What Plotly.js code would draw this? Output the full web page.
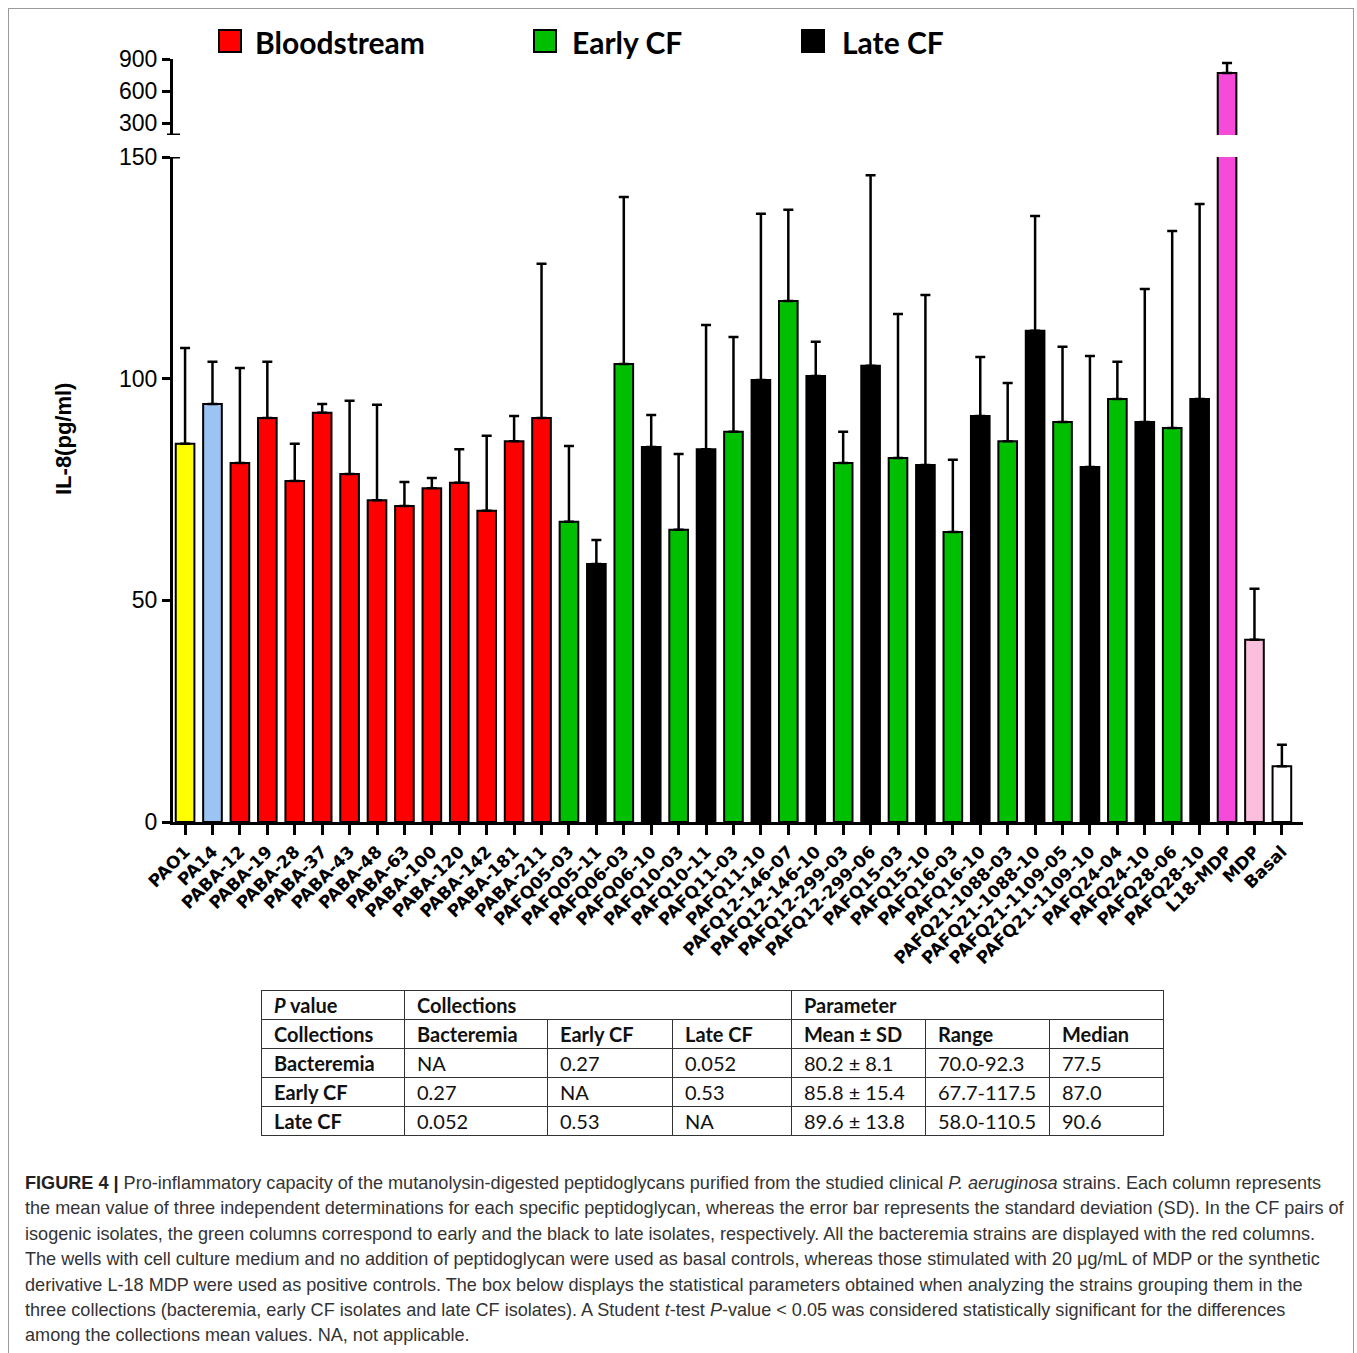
<!DOCTYPE html>
<html>
<head>
<meta charset="utf-8">
<script src="https://cdn.plot.ly/plotly-3.0.1.min.js"></script>
<style>
  html, body { margin:0; padding:0; background:#fff; }
  #frame { position:absolute; left:8px; top:8px; width:1346px; height:1360px; border:1px solid #9a9a9a; box-sizing:border-box; }
  #chart { position:absolute; left:0; top:0; width:1357px; height:980px; }
  #tbl { position:absolute; left:261px; top:990px; border-collapse:collapse; font-family:Lato, "Open Sans", sans-serif; font-size:20px; color:#111; table-layout:fixed; }
  #tbl td { border:1px solid #333; height:28px; padding:0 0 0 12px; white-space:nowrap; line-height:28px; }
  #tbl tr.h td { font-weight:bold; }
  #tbl td.b { font-weight:bold; }
  #cap { position:absolute; left:25px; top:1171px; font-family:"Liberation Sans", Arial, sans-serif; font-size:18.1px; line-height:25.4px; color:#333; white-space:nowrap; }
</style>
</head>
<body>
<div id="frame"></div>
<div id="chart"></div>
<table id="tbl">
  <colgroup>
    <col style="width:143px"><col style="width:143px"><col style="width:125px"><col style="width:119px"><col style="width:134px"><col style="width:124px"><col style="width:114px">
  </colgroup>
  <tr class="h"><td><i>P</i> value</td><td colspan="3">Collections</td><td colspan="3">Parameter</td></tr>
  <tr class="h"><td>Collections</td><td>Bacteremia</td><td>Early CF</td><td>Late CF</td><td>Mean ± SD</td><td>Range</td><td>Median</td></tr>
  <tr><td class="b">Bacteremia</td><td>NA</td><td>0.27</td><td>0.052</td><td>80.2 ± 8.1</td><td>70.0-92.3</td><td>77.5</td></tr>
  <tr><td class="b">Early CF</td><td>0.27</td><td>NA</td><td>0.53</td><td>85.8 ± 15.4</td><td>67.7-117.5</td><td>87.0</td></tr>
  <tr><td class="b">Late CF</td><td>0.052</td><td>0.53</td><td>NA</td><td>89.6 ± 13.8</td><td>58.0-110.5</td><td>90.6</td></tr>
</table>
<div id="cap"><b style="color:#222">FIGURE 4 |</b> Pro-inflammatory capacity of the mutanolysin-digested peptidoglycans purified from the studied clinical <i>P. aeruginosa</i> strains. Each column represents<br>the mean value of three independent determinations for each specific peptidoglycan, whereas the error bar represents the standard deviation (SD). In the CF pairs of<br>isogenic isolates, the green columns correspond to early and the black to late isolates, respectively. All the bacteremia strains are displayed with the red columns.<br>The wells with cell culture medium and no addition of peptidoglycan were used as basal controls, whereas those stimulated with 20 μg/mL of MDP or the synthetic<br>derivative L-18 MDP were used as positive controls. The box below displays the statistical parameters obtained when analyzing the strains grouping them in the<br>three collections (bacteremia, early CF isolates and late CF isolates). A Student <i>t</i>-test <i>P</i>-value &lt; 0.05 was considered statistically significant for the differences<br>among the collections mean values. NA, not applicable.</div>
<script>
// ---- data ----
const strains = ["PAO1","PA14","PABA-12","PABA-19","PABA-28","PABA-37","PABA-43","PABA-48","PABA-63","PABA-100","PABA-120","PABA-142","PABA-181","PABA-211",
  "PAFQ05-03","PAFQ05-11","PAFQ06-03","PAFQ06-10","PAFQ10-03","PAFQ10-11","PAFQ11-03","PAFQ11-10","PAFQ12-146-07","PAFQ12-146-10","PAFQ12-299-03","PAFQ12-299-06",
  "PAFQ15-03","PAFQ15-10","PAFQ16-03","PAFQ16-10","PAFQ21-1088-03","PAFQ21-1088-10","PAFQ21-1109-05","PAFQ21-1109-10","PAFQ24-04","PAFQ24-10","PAFQ28-06","PAFQ28-10",
  "L18-MDP","MDP","Basal"];
const groups = ["PAO1","PA14","B","B","B","B","B","B","B","B","B","B","B","B",
  "E","L","E","L","E","L","E","L","E","L","E","L",
  "E","L","E","L","E","L","E","L","E","L","E","L",
  "L18","MDP","Basal"];
const il8Mean = [85.3,94.3,81.0,91.1,76.9,92.3,78.5,72.6,71.3,75.3,76.5,70.2,85.9,91.1,
  67.7,58.2,103.3,84.6,65.9,84.1,88.0,99.7,117.5,100.6,81.0,102.9,
  82.1,80.5,65.4,91.6,85.9,110.8,90.2,80.1,95.4,90.2,88.9,95.4,
  769,41.1,12.6];
const il8SD = [21.6,9.5,21.4,12.7,8.4,2.0,16.5,21.5,5.4,2.3,7.6,16.9,5.7,34.8,
  17.1,5.4,37.7,7.2,17.1,28.0,21.4,37.5,20.6,7.7,7.0,43.0,
  32.5,38.4,16.3,13.3,13.1,25.9,17.0,25.0,8.4,30.0,44.4,44.0,
  93,11.5,4.8];
const lowerTicks = [0,50,100,150];
const upperTicks = [300,600,900];
const legendNames = ["Bloodstream","Early CF","Late CF"];

// ---- styles ----
const groupColor = {PAO1:"#ffff00", PA14:"#9cc4f2", B:"#ff0000", E:"#00bf00", L:"#000000", L18:"#f64bd8", MDP:"#fbbfdd", Basal:"#ffffff"};
const legendColor = ["#ff0000","#00bf00","#000000"];
const colors = groups.map(g => groupColor[g]);
const zeros = il8SD.map(() => 0);

const lower = {
  type:"bar", x:strains, y:il8Mean, xaxis:"x", yaxis:"y", width:0.68,
  marker:{color:colors, line:{color:"#000", width:2}},
  error_y:{type:"data", symmetric:false, array:il8SD, arrayminus:zeros, color:"#000", thickness:2.5, width:5},
  showlegend:false, hoverinfo:"x+y"
};
const hi = strains.map((s,i) => groups[i]==="L18" ? i : -1).filter(i => i>=0);
const upper = {
  type:"bar", x:hi.map(i=>strains[i]), y:hi.map(i=>il8Mean[i]), xaxis:"x2", yaxis:"y2", width:0.68,
  marker:{color:hi.map(i=>colors[i]), line:{color:"#000", width:2}},
  error_y:{type:"data", symmetric:false, array:hi.map(i=>il8SD[i]), arrayminus:hi.map(()=>0), color:"#000", thickness:2.5, width:5},
  showlegend:false, hoverinfo:"x+y"
};

// plot area pixel geometry: x 173..1303, y 59..822
const L=173, R=1303, T=59, B=822, W=R-L, H=B-T;
const px = v => (v-L)/W, py = v => (B-v)/H;

const shapes = [
  {type:"line", xref:"paper", yref:"y", x0:px(173), x1:px(180), y0:150, y1:150, line:{color:"#000", width:3}},
  {type:"line", xref:"paper", yref:"y2", x0:px(167), x1:px(180), y0:187.5, y1:187.5, line:{color:"#000", width:3}}
];
const annotations = [
  {xref:"paper", yref:"paper", x:px(63), y:py(439), text:"IL-8(pg/ml)", textangle:-90, showarrow:false,
   font:{family:"Liberation Sans, Arial", size:22, color:"#000", weight:"bold"}, xanchor:"center", yanchor:"middle"}
];
const legendSq = [[219,241],[534,556],[802,824]];
const legendTx = [253,570,840];
legendNames.forEach((n,k) => {
  shapes.push({type:"rect", xref:"paper", yref:"paper", x0:px(legendSq[k][0]), x1:px(legendSq[k][1]), y0:py(52), y1:py(30),
    fillcolor:legendColor[k], line:{color:"#000", width:2}});
  annotations.push({xref:"paper", yref:"paper", x:px(legendTx[k]), y:py(42), text:n, showarrow:false, xanchor:"left", yanchor:"middle",
    font:{family:"Lato, Open Sans", size:30, color:"#000", weight:"bold"}});
});

const tickFontX = {family:"DejaVu Sans", size:17, color:"#000", weight:"bold"};
const tickFontY = {family:"Liberation Sans, Arial", size:23, color:"#000"};

const layout = {
  width:1357, height:980,
  margin:{l:L, r:1357-R, t:T, b:980-B},
  paper_bgcolor:"rgba(0,0,0,0)", plot_bgcolor:"rgba(0,0,0,0)",
  showlegend:false,
  xaxis:{type:"category", categoryorder:"array", categoryarray:strains, range:[-0.44,40.77], domain:[0,1], anchor:"y",
    showline:true, linewidth:3, linecolor:"#000", ticks:"outside", ticklen:10, tickwidth:3, tickcolor:"#000",
    tickangle:-45, tickfont:tickFontX, showgrid:false, zeroline:false, fixedrange:true, automargin:false},
  xaxis2:{type:"category", categoryorder:"array", categoryarray:strains, range:[-0.44,40.77], domain:[0,1], anchor:"y2",
    visible:false, fixedrange:true},
  yaxis:{domain:[0, py(157)], range:[0,150], tickvals:lowerTicks, ticks:"outside", ticklen:8, tickwidth:3, tickcolor:"#000",
    showline:true, linewidth:3, linecolor:"#000", showgrid:false, zeroline:false, tickfont:tickFontY, anchor:"x"},
  yaxis2:{domain:[py(135), 1], range:[187.5,900], tickvals:upperTicks, ticks:"outside", ticklen:8, tickwidth:3, tickcolor:"#000",
    showline:true, linewidth:3, linecolor:"#000", showgrid:false, zeroline:false, tickfont:tickFontY, anchor:"x2"},
  shapes:shapes, annotations:annotations, bargap:0.32
};

Plotly.newPlot("chart", [lower, upper], layout, {staticPlot:true, displayModeBar:false});
</script>
</body>
</html>
